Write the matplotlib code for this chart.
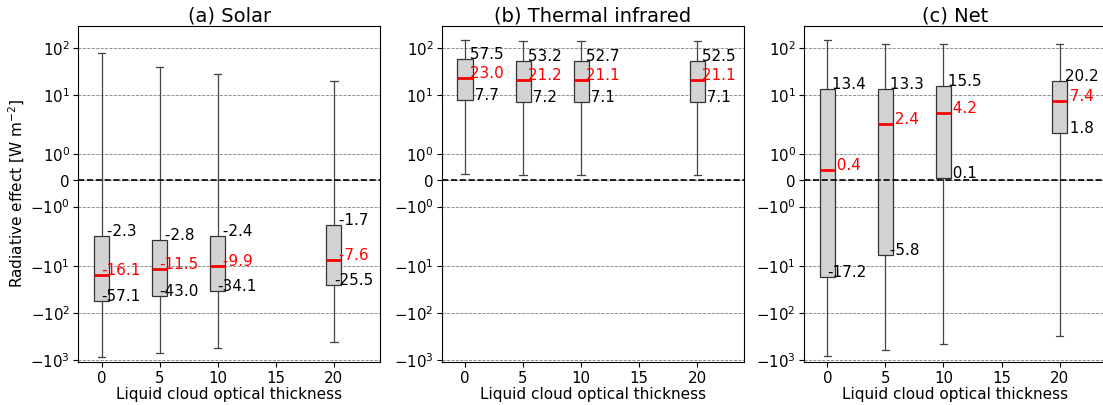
import matplotlib
matplotlib.use("Agg")
import matplotlib.pyplot as plt
import numpy as np

tau = [0, 5, 10, 20]
titles = ["(a) Solar", "(b) Thermal infrared", "(c) Net"]

# whisker ends (min / max) and quartiles
solar_min = [-870, -700, -560, -410]
solar_q1 = [-57.1, -43.0, -34.1, -25.5]
solar_med = [-16.1, -11.5, -9.9, -7.6]
solar_q3 = [-2.3, -2.8, -2.4, -1.7]
solar_max = [76, 40, 28, 20]

ir_min = [0.24, 0.21, 0.21, 0.21]
ir_q1 = [7.7, 7.2, 7.1, 7.1]
ir_med = [23.0, 21.2, 21.1, 21.1]
ir_q3 = [57.5, 53.2, 52.7, 52.5]
ir_max = [145, 141, 141, 141]

net_min = [-820, -620, -455, -310]
net_q1 = [-17.2, -5.8, 0.1, 1.8]
net_med = [0.4, 2.4, 4.2, 7.4]
net_q3 = [13.4, 13.3, 15.5, 20.2]
net_max = [145, 118, 118, 118]

panels = [
    (solar_min, solar_q1, solar_med, solar_q3, solar_max),
    (ir_min, ir_q1, ir_med, ir_q3, ir_max),
    (net_min, net_q1, net_med, net_q3, net_max),
]

fig = plt.figure(figsize=(11.03, 4.05), dpi=100)
lefts = [0.0710, 0.4005, 0.7290]

for i, (lo, q1, med, q3, hi) in enumerate(panels):
    ax = fig.add_axes([lefts[i], 0.107, 0.2738, 0.829])
    stats = []
    for k in range(len(tau)):
        stats.append({"whislo": lo[k], "q1": q1[k], "med": med[k],
                      "q3": q3[k], "whishi": hi[k], "fliers": []})
    ax.bxp(stats, positions=tau, widths=1.3, patch_artist=True,
           showfliers=False,
           boxprops=dict(facecolor="lightgray", edgecolor="#333333", linewidth=0.9),
           whiskerprops=dict(color="#444444", linewidth=0.9),
           capprops=dict(color="#444444", linewidth=0.9),
           medianprops=dict(color="red", linewidth=2))
    ax.set_yscale("symlog", linthresh=2)
    ax.yaxis.set_minor_locator(matplotlib.ticker.NullLocator())
    ax.set_ylim(-1080, 290)
    ax.set_xlim(-2, 24)
    ax.set_xticks([0, 5, 10, 15, 20])
    ax.set_xticklabels(["0", "5", "10", "15", "20"])
    ax.axhline(0, color="black", linestyle="--", linewidth=1.2)
    ax.yaxis.grid(True, color="gray", linestyle="--", linewidth=0.6)
    ax.set_axisbelow(True)
    ax.tick_params(labelsize=10.8)
    ax.tick_params(axis="x", pad=3)
    ax.tick_params(axis="y", pad=2.5)
    for k in range(len(tau)):
        ax.text(tau[k], q3[k], "%5.1f" % q3[k], fontsize=11, color="black")
        ax.text(tau[k], med[k], "%5.1f" % med[k], fontsize=11, color="red")
        ax.text(tau[k], q1[k], "%5.1f" % q1[k], fontsize=11, color="black")
    ax.set_title(titles[i], fontsize=14, pad=3)
    ax.set_xlabel("Liquid cloud optical thickness", fontsize=11, labelpad=1)
    if i == 0:
        ax.set_ylabel("Radiative effect [W m$^{-2}$]", fontsize=11, labelpad=2)

fig.savefig("out.png", dpi=100)
